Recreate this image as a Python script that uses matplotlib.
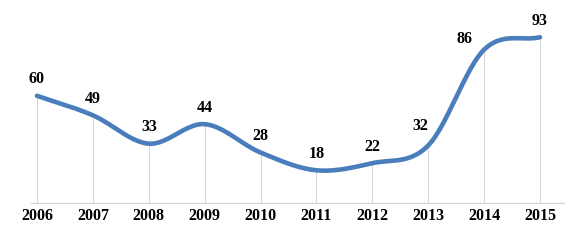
import numpy as np
import matplotlib
matplotlib.use("Agg")
import matplotlib.pyplot as plt

# donnees
years = [2006, 2007, 2008, 2009, 2010, 2011, 2012, 2013, 2014, 2015]
values = [60, 49, 33, 44, 28, 18, 22, 32, 86, 93]
# decalage des etiquettes (points), comme dans l'original
label_dx = [0, 0, 0, 0, 0, 0, 0, -6, -14, 0]
label_dy = [6, 6, 6, 6, 6, 6, 6, 8, 2, 6]

line_color = "#4a7dbb"
grid_color = "#d4d4d4"


def catmull_rom(x, y, n=30):
    # courbe lissee facon Excel
    x = np.asarray(x, float)
    y = np.asarray(y, float)
    px = np.concatenate([[2 * x[0] - x[1]], x, [2 * x[-1] - x[-2]]])
    py = np.concatenate([[2 * y[0] - y[1]], y, [2 * y[-1] - y[-2]]])
    xs, ys = [], []
    t = np.linspace(0, 1, n)
    for i in range(1, len(px) - 2):
        p0, p1, p2, p3 = px[i - 1], px[i], px[i + 1], px[i + 2]
        q0, q1, q2, q3 = py[i - 1], py[i], py[i + 1], py[i + 2]
        b1 = p1 + (p2 - p0) / 6
        b2 = p2 - (p3 - p1) / 6
        c1 = q1 + (q2 - q0) / 6
        c2 = q2 - (q3 - q1) / 6
        xs.append((1 - t)**3 * p1 + 3 * (1 - t)**2 * t * b1 + 3 * (1 - t) * t**2 * b2 + t**3 * p2)
        ys.append((1 - t)**3 * q1 + 3 * (1 - t)**2 * t * c1 + 3 * (1 - t) * t**2 * c2 + t**3 * q2)
    return np.concatenate(xs), np.concatenate(ys)


fig = plt.figure(figsize=(5.7, 2.44), dpi=100)
ax = fig.add_axes([0, 0.164, 1, 0.836])
ax.set_xlim(2005.338, 2015.537)
ax.set_ylim(-1, 114)

# lignes de rappel verticales
ax.vlines(years, -1, values, color=grid_color, lw=0.7, zorder=1)
ax.axhline(-0.6, xmin=0.055, xmax=0.99, color=grid_color, lw=1.0, zorder=1)

sx, sy = catmull_rom(years, values)
ax.plot(sx, sy, color=line_color, lw=3.3, solid_capstyle="round", zorder=3)

font = dict(family=["Liberation Serif", "DejaVu Serif"], weight="bold", size=11.5)
for x, v, dx, dy in zip(years, values, label_dx, label_dy):
    ax.annotate(str(v), (x, v), xytext=(dx, dy), textcoords="offset points",
                ha="center", va="bottom", **font)

ax.set_xticks(years)
ax.set_xticklabels([str(y) for y in years], **font)
ax.tick_params(axis="x", length=0, pad=3)
ax.set_yticks([])
for s in ax.spines.values():
    s.set_visible(False)

fig.savefig("out.png", dpi=100)
